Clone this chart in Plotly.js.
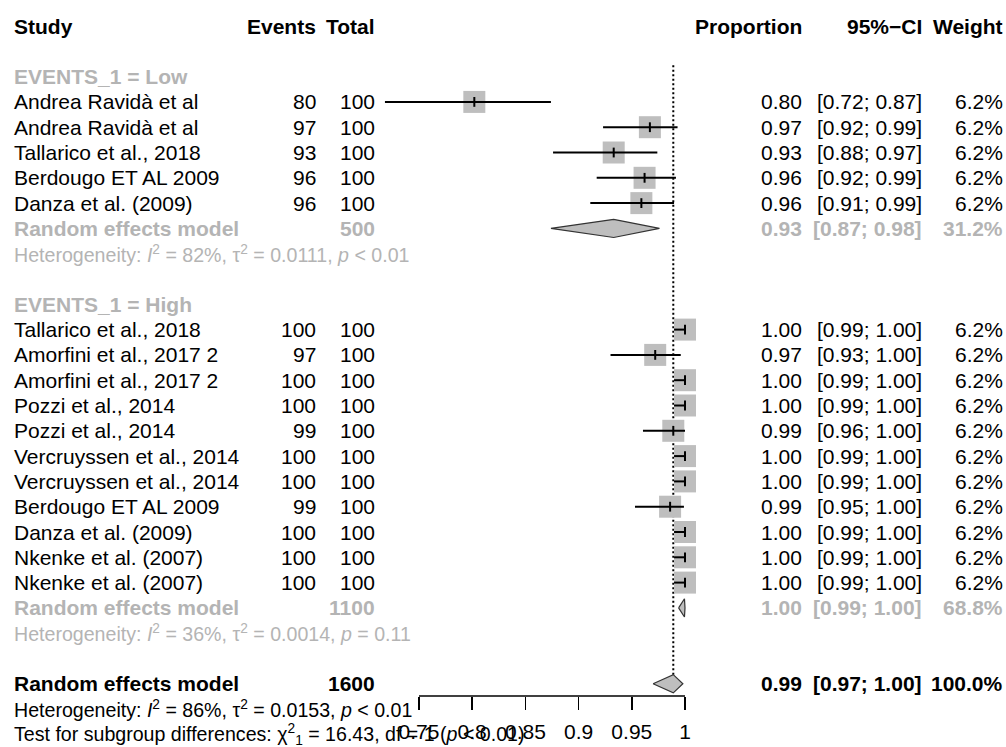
<!DOCTYPE html>
<html>
<head>
<meta charset="utf-8">
<script src="https://cdn.plot.ly/plotly-3.0.1.min.js"></script>
<style>html,body{margin:0;padding:0;background:#fff;}#chart{width:1006px;height:747px;}</style>
</head>
<body>
<div id="chart"></div>
<script>
// ---------------- DATA ----------------
const groupLabels = ['EVENTS_1 = Low', 'EVENTS_1 = High'];

const lowStudies = ['Andrea Ravidà et al', 'Andrea Ravidà et al', 'Tallarico et al., 2018', 'Berdougo ET AL 2009', 'Danza et al. (2009)'];
const lowEvents  = [80, 97, 93, 96, 96];
const lowTotal   = [100, 100, 100, 100, 100];
const lowEst     = [0.802, 0.967, 0.933, 0.962, 0.959];
const lowLower   = [0.718, 0.923, 0.876, 0.917, 0.911];
const lowUpper   = [0.874, 0.993, 0.974, 0.9915, 0.9897];
const lowWeight  = [6.2, 6.2, 6.2, 6.2, 6.2];

const highStudies = ['Tallarico et al., 2018', 'Amorfini et al., 2017 2', 'Amorfini et al., 2017 2', 'Pozzi et al., 2014', 'Pozzi et al., 2014',
  'Vercruyssen et al., 2014', 'Vercruyssen et al., 2014', 'Berdougo ET AL 2009', 'Danza et al. (2009)', 'Nkenke et al. (2007)', 'Nkenke et al. (2007)'];
const highEvents = [100, 97, 100, 100, 99, 100, 100, 99, 100, 100, 100];
const highTotal  = [100, 100, 100, 100, 100, 100, 100, 100, 100, 100, 100];
const highEst    = [1.0, 0.972, 1.0, 1.0, 0.989, 1.0, 1.0, 0.986, 1.0, 1.0, 1.0];
const highLower  = [0.9897, 0.930, 0.9897, 0.9897, 0.9605, 0.9897, 0.9897, 0.953, 0.9897, 0.9897, 0.9897];
const highUpper  = [1.0, 0.996, 1.0, 1.0, 1.0, 1.0, 1.0, 0.999, 1.0, 1.0, 1.0];
const highWeight = [6.2, 6.2, 6.2, 6.2, 6.2, 6.2, 6.2, 6.2, 6.2, 6.2, 6.2];

const subTotals = [500, 1100];
const subEst    = [0.933, 0.9995];
const subLower  = [0.874, 0.994];
const subUpper  = [0.976, 1.0];
const subWeight = [31.2, 68.8];
const subHet    = [
  'Heterogeneity: <i>I</i><sup>2</sup> = 82%, τ<sup>2</sup> = 0.0111, <i>p</i> &lt; 0.01',
  'Heterogeneity: <i>I</i><sup>2</sup> = 36%, τ<sup>2</sup> = 0.0014, <i>p</i> = 0.11'
];

const overallTotal  = 1600;
const overallEst    = 0.989;
const overallLower  = 0.970;
const overallUpper  = 0.998;
const overallWeight = 100.0;
const overallHet  = 'Heterogeneity: <i>I</i><sup>2</sup> = 86%, τ<sup>2</sup> = 0.0153, <i>p</i> &lt; 0.01';
const subgroupTest = 'Test for subgroup differences: χ<sup>2</sup><sub>1</sub> = 16.43, df = 1 (<i>p</i> &lt; 0.01)';

const tickVals = [0.75, 0.8, 0.85, 0.9, 0.95, 1];
const tickText = ['0.75', '0.8', '0.85', '0.9', '0.95', '1'];

const headers = ['Study', 'Events', 'Total', 'Proportion', '95%−CI', 'Weight'];

// ---------------- LAYOUT HELPERS ----------------
const W = 1006, H = 747;
const FONT = 'Liberation Sans, Arial, Helvetica, sans-serif';
const GRAY = '#b4b4b4';
const FS = 21, FSH = 19.6;
const col = {study: 12, events: 318, total: 377, prop: 804, ci: 924, weight: 1005};

const groups = [
  {label: groupLabels[0], studies: lowStudies, events: lowEvents, total: lowTotal, est: lowEst, lo: lowLower, hi: lowUpper, w: lowWeight},
  {label: groupLabels[1], studies: highStudies, events: highEvents, total: highTotal, est: highEst, lo: highLower, hi: highUpper, w: highWeight}
];

const ann = [];
function txt(text, xpx, row, anchor, color, bold, size) {
  ann.push({
    text: bold ? '<b>' + text + '</b>' : text,
    x: xpx / W, xref: 'paper', y: row, yref: 'y',
    xanchor: anchor, yanchor: 'middle', showarrow: false,
    font: {family: FONT, size: size || FS, color: color || '#000'}
  });
}
const f2 = v => v.toFixed(2);
const ciText = (lo, hi) => '[' + f2(lo) + '; ' + f2(hi) + ']';

// headers
txt(headers[0], col.study, 0, 'left', '#000', true);
txt(headers[1], col.events, 0, 'right', '#000', true);
txt(headers[2], col.total, 0, 'right', '#000', true);
txt(headers[3], col.prop, 0, 'right', '#000', true);
txt(headers[4], col.ci, 0, 'right', '#000', true);
txt(headers[5], col.weight, 0, 'right', '#000', true);

const sqX = [], sqY = [], ciX = [], ciY = [], ciPlus = [], ciMinus = [];
const diamonds = [];
let row = 2;
groups.forEach((g, gi) => {
  txt(g.label, col.study, row, 'left', GRAY, true);
  row++;
  g.studies.forEach((s, i) => {
    txt(s, col.study, row, 'left');
    txt(String(g.events[i]), col.events, row, 'right');
    txt(String(g.total[i]), col.total, row, 'right');
    txt(f2(g.est[i]), col.prop, row, 'right');
    txt(ciText(g.lo[i], g.hi[i]), col.ci, row, 'right');
    txt(g.w[i].toFixed(1) + '%', col.weight, row, 'right');
    sqX.push(g.est[i]); sqY.push(row);
    ciX.push(g.est[i]); ciY.push(row);
    ciPlus.push(g.hi[i] - g.est[i]); ciMinus.push(g.est[i] - g.lo[i]);
    row++;
  });
  txt('Random effects model', col.study, row, 'left', GRAY, true);
  txt(String(subTotals[gi]), col.total, row, 'right', GRAY, true);
  txt(f2(subEst[gi]), col.prop, row, 'right', GRAY, true);
  txt(ciText(subLower[gi], subUpper[gi]), col.ci, row, 'right', GRAY, true);
  txt(subWeight[gi].toFixed(1) + '%', col.weight, row, 'right', GRAY, true);
  diamonds.push({est: subEst[gi], lo: subLower[gi], hi: subUpper[gi], row: row});
  row++;
  txt(subHet[gi], col.study, row, 'left', GRAY, false, FSH);
  row += 2;
});
const overallRow = row;
txt('Random effects model', col.study, row, 'left', '#000', true);
txt(String(overallTotal), col.total, row, 'right', '#000', true);
txt(f2(overallEst), col.prop, row, 'right', '#000', true);
txt(ciText(overallLower, overallUpper), col.ci, row, 'right', '#000', true);
txt(overallWeight.toFixed(1) + '%', col.weight, row, 'right', '#000', true);
diamonds.push({est: overallEst, lo: overallLower, hi: overallUpper, row: row});
txt(overallHet, col.study, row + 1, 'left', '#000', false, FSH);
txt(subgroupTest, col.study, row + 2, 'left', '#000', false, FSH);

// ---------------- TRACES ----------------
const DH = 0.36;
const traces = [];
traces.push({
  type: 'scatter', mode: 'lines', x: [overallEst, overallEst], y: [1.55, overallRow - DH],
  line: {color: '#000', width: 2, dash: '2px,2.5px'}, hoverinfo: 'skip'
});
traces.push({
  type: 'scatter', mode: 'markers', x: sqX, y: sqY,
  marker: {symbol: 'square', size: 22, color: '#bebebe', line: {width: 0}}, hoverinfo: 'skip'
});
traces.push({
  type: 'scatter', mode: 'markers', x: ciX, y: ciY,
  marker: {symbol: 'line-ns-open', size: 7, color: '#000', line: {color: '#000', width: 2}},
  error_x: {type: 'data', symmetric: false, array: ciPlus, arrayminus: ciMinus, color: '#000', thickness: 2, width: 0},
  hoverinfo: 'skip'
});
diamonds.forEach(d => {
  traces.push({
    type: 'scatter', mode: 'lines', fill: 'toself', fillcolor: '#bebebe',
    x: [d.lo, d.est, d.hi, d.est, d.lo], y: [d.row, d.row - DH, d.row, d.row + DH, d.row],
    line: {color: '#333', width: 1.2}, hoverinfo: 'skip'
  });
});

const axisPos = 1 - 696 / H;
const layout = {
  width: W, height: H,
  margin: {l: 0, r: 0, t: 0, b: 0, pad: 0},
  paper_bgcolor: '#fff', plot_bgcolor: 'rgba(0,0,0,0)',
  showlegend: false,
  xaxis: {
    domain: [380 / W, 700 / W], range: [0.71335, 1.0141],
    anchor: 'free', position: axisPos,
    tickmode: 'array', tickvals: tickVals, ticktext: tickText,
    ticks: 'outside', ticklen: 13, tickwidth: 1.5, tickcolor: '#000',
    ticklabelstandoff: 4,
    showline: false, showgrid: false, zeroline: false,
    tickfont: {family: FONT, size: FS, color: '#000'}
  },
  yaxis: {domain: [0, 1], range: [28.498, -1.028], visible: false, showgrid: false, zeroline: false},
  shapes: [{
    type: 'line', xref: 'x', yref: 'paper',
    x0: tickVals[0], x1: tickVals[tickVals.length - 1], y0: axisPos, y1: axisPos,
    line: {color: '#000', width: 1.5}
  }],
  annotations: ann
};

Plotly.newPlot('chart', traces, layout, {displayModeBar: false, staticPlot: true});
</script>
</body>
</html>
